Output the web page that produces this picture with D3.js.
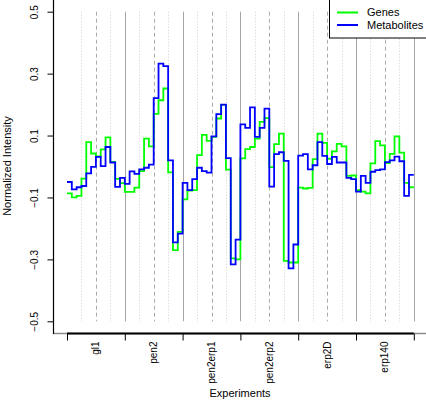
<!DOCTYPE html>
<html>
<head>
<meta charset="utf-8">
<script src="https://cdn.jsdelivr.net/npm/d3@7"></script>
<style>
  body { margin: 0; background: #fff; }
  svg { display: block; font-family: "Liberation Sans", Arial, sans-serif; }
</style>
</head>
<body>
<svg id="chart" width="426" height="403"></svg>
<script>
// Experiments, each sampled at 12 consecutive positions
const experiments = ["gl1", "pen2", "pen2erp1", "pen2erp2", "erp2D", "erp140"];
const stepsPerExperiment = 12;

const genes = [
  -0.087, -0.100, -0.095, -0.039, 0.079, 0.042, 0.033, 0.055, 0.094, 0.015, -0.040, -0.054,
  -0.082, -0.082, -0.068, -0.015, 0.090, 0.065, 0.170, 0.214, 0.252, -0.019, -0.270, -0.211,
  -0.106, -0.078, -0.076, 0.037, 0.102, 0.083, 0.096, 0.155, 0.199, -0.010, -0.297, -0.300,
  0.026, 0.056, 0.063, 0.090, 0.144, 0.156, -0.002, 0.072, 0.106, -0.305, -0.310, -0.310,
  -0.068, -0.071, -0.069, 0.024, 0.106, 0.076, 0.025, 0.049, 0.073, 0.065, -0.030, -0.029,
  -0.076, -0.081, -0.087, 0.010, 0.082, 0.068, 0.011, 0.041, 0.097, 0.045, -0.053, -0.067
];

const metabolites = [
  -0.050, -0.074, -0.067, -0.063, -0.022, -0.001, 0.031, 0.001, 0.063, 0.013, -0.066, -0.037,
  -0.056, -0.016, -0.024, -0.009, -0.004, 0.006, 0.221, 0.332, 0.324, 0.020, -0.245, -0.217,
  -0.053, -0.076, -0.041, -0.004, -0.015, -0.020, 0.097, 0.169, 0.200, 0.027, -0.316, -0.236,
  0.136, 0.125, 0.191, 0.096, 0.125, 0.187, -0.065, 0.040, 0.046, 0.018, -0.329, -0.252,
  0.035, 0.040, -0.009, 0.004, 0.079, 0.034, 0.008, 0.031, 0.013, 0.013, -0.037, -0.041,
  -0.081, -0.030, -0.053, -0.017, -0.012, -0.009, 0.014, 0.020, 0.032, 0.017, -0.095, -0.027
];

const yTicks = [-0.5, -0.3, -0.1, 0.1, 0.3, 0.5];

const series = [
  { name: "Genes", values: genes, color: "#00ff00" },
  { name: "Metabolites", values: metabolites, color: "#0000ff" }
];

const svg = d3.select("#chart");
const n = genes.length;

const x = d3.scaleLinear().domain([0, n]).range([67, 413.8]);
const y = d3.scaleLinear().domain([-0.5, 0.5]).range([321.3, 11.7]);
const plotLeft = 53.5, plotBottom = 333.5, plotTop = 0;

// Vertical guides: solid between experiments, dashed at the middle, dotted at quarters
const guides = d3.range(3, n + 1, 3);
svg.append("g")
  .selectAll("line")
  .data(guides)
  .join("line")
  .attr("x1", d => Math.round(x(d)) + 0.5)
  .attr("x2", d => Math.round(x(d)) + 0.5)
  .attr("y1", y(0.5))
  .attr("y2", y(-0.5))
  .attr("stroke", d => d % 12 === 0 ? "#a6a6a6" : d % 6 === 0 ? "#ababab" : "#cfcfcf")
  .attr("stroke-width", 1)
  .attr("stroke-dasharray", d => d % 12 === 0 ? null : d % 6 === 0 ? "4,3" : "1,2");

// Step lines, each value spanning one position
const line = d3.line()
  .x(d => x(d[0]))
  .y(d => y(d[1]))
  .curve(d3.curveStepAfter);

series.forEach(s => {
  const pts = s.values.map((v, i) => [i, v]);
  pts.push([n, s.values[n - 1]]);
  svg.append("path")
    .datum(pts)
    .attr("fill", "none")
    .attr("stroke", s.color)
    .attr("stroke-width", 1.8)
    .attr("stroke-linejoin", "miter")
    .attr("d", line);
});

// Frame: grey bottom edge, black left edge
svg.append("line")
  .attr("x1", plotLeft).attr("x2", 426)
  .attr("y1", plotBottom).attr("y2", plotBottom)
  .attr("stroke", "#8c8c8c").attr("stroke-width", 1.5);
svg.append("line")
  .attr("x1", plotLeft).attr("x2", plotLeft)
  .attr("y1", plotTop).attr("y2", plotBottom + 0.5)
  .attr("stroke", "#000").attr("stroke-width", 1.2);

// Bottom axis: ticks at experiment boundaries
const xAxis = d3.axisBottom(x)
  .tickValues(d3.range(0, n + 1, stepsPerExperiment))
  .tickSize(7)
  .tickSizeOuter(0)
  .tickFormat("");
const gx = svg.append("g")
  .attr("transform", `translate(0,${plotBottom})`)
  .call(xAxis);
gx.select(".domain").remove();
gx.selectAll(".tick line").attr("stroke", "#000");
svg.append("line")
  .attr("x1", x(0)).attr("x2", x(n))
  .attr("y1", plotBottom).attr("y2", plotBottom)
  .attr("stroke", "#000").attr("stroke-width", 2);

// Experiment names, rotated, centred on each block
svg.append("g")
  .selectAll("text")
  .data(experiments)
  .join("text")
  .attr("transform", (d, k) => `translate(${x((k + 0.5) * stepsPerExperiment)},341.5) rotate(-90)`)
  .attr("dy", "0.35em")
  .attr("text-anchor", "end")
  .attr("font-size", 10)
  .attr("fill", "#000")
  .text(d => d);

// Left axis
const yAxis = d3.axisLeft(y)
  .tickValues(yTicks)
  .tickSize(6)
  .tickSizeOuter(0)
  .tickFormat(d3.format(".1f"));
const gy = svg.append("g")
  .attr("transform", `translate(${plotLeft},0)`)
  .call(yAxis);
gy.select(".domain").remove();
gy.selectAll(".tick line").attr("stroke", "#000");
gy.selectAll(".tick text")
  .attr("x", null)
  .attr("dy", "0.35em")
  .attr("transform", "translate(-19,0) rotate(-90)")
  .attr("text-anchor", "middle")
  .attr("font-size", 10)
  .attr("font-family", "Liberation Sans, Arial, sans-serif")
  .attr("fill", "#000");

// Axis titles
svg.append("text")
  .attr("x", 240).attr("y", 397)
  .attr("text-anchor", "middle")
  .attr("font-size", 11)
  .text("Experiments");
svg.append("text")
  .attr("transform", "translate(7.5,166) rotate(-90)")
  .attr("dy", "0.35em")
  .attr("text-anchor", "middle")
  .attr("font-size", 11)
  .text("Normalized Intensity");

// Legend
const legend = svg.append("g");
legend.append("rect")
  .attr("x", 329.5).attr("y", -5)
  .attr("width", 110).attr("height", 43)
  .attr("fill", "#fff").attr("stroke", "#000").attr("stroke-width", 1);
const legendRows = legend.selectAll("g.row")
  .data(series)
  .join("g")
  .attr("class", "row")
  .attr("transform", (d, i) => `translate(0,${12.5 + i * 12.5})`);
legendRows.append("line")
  .attr("x1", 337).attr("x2", 358)
  .attr("stroke", d => d.color).attr("stroke-width", 2);
legendRows.append("text")
  .attr("x", 367)
  .attr("dy", "0.35em")
  .attr("font-size", 11)
  .text(d => d.name);
</script>
</body>
</html>
